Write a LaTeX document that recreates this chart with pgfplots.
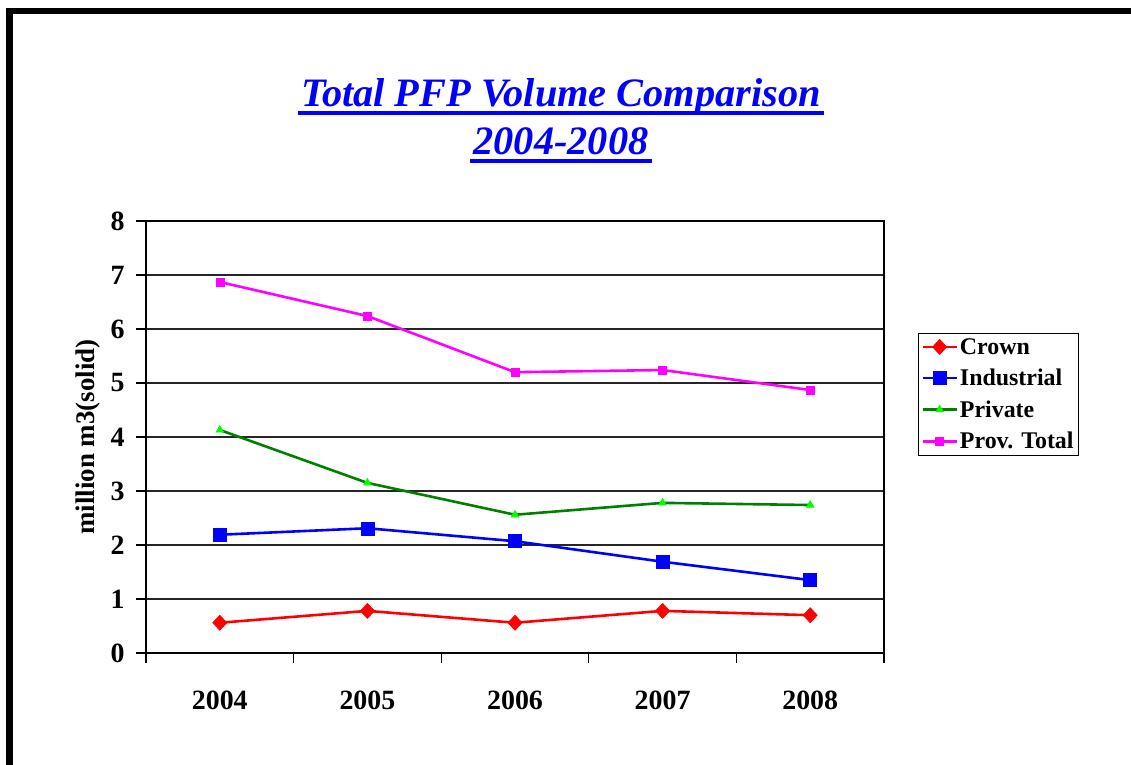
\documentclass[border=0pt]{standalone}
\usepackage{fontspec}
\setmainfont{Liberation Serif}
\usepackage{pgfplots}
\pgfplotsset{compat=1.18}
\usetikzlibrary{calc}
\definecolor{crownRed}{RGB}{255,0,0}
\definecolor{indBlue}{RGB}{0,0,255}
\definecolor{privLine}{RGB}{0,128,0}
\definecolor{privMark}{RGB}{0,255,0}
\definecolor{provMag}{RGB}{255,0,255}

\begin{document}
\begin{tikzpicture}[x=1bp,y=1bp]
  \useasboundingbox (0,0) rectangle (1131,765);
  % slide frame (left and top edges)
  \fill[black] (6,0) rectangle (13,757);
  \fill[black] (6,751) rectangle (1131,757);

  % title
  \node[anchor=base,text=indBlue,font=\fontsize{40.5}{40.5}\selectfont\bfseries\itshape]
    (t1) at (561,658) {Total PFP Volume Comparison};
  \node[anchor=base,text=indBlue,font=\fontsize{40.5}{40.5}\selectfont\bfseries\itshape]
    (t2) at (561,610) {2004-2008};
  \draw[indBlue,line width=4] ($(t1.base west)+(0,-6)$) -- ($(t1.base east)+(0,-6)$);
  \draw[indBlue,line width=4] ($(t2.base west)+(0,-6)$) -- ($(t2.base east)+(0,-6)$);

  \coordinate (axsw) at (146,112);
  \begin{axis}[
    at={(axsw)},anchor=south west,
    scale only axis,width=738bp,height=432bp,
    xmin=-0.5,xmax=4.5,ymin=0,ymax=8,
    xtick={0,1,2,3,4},
    xticklabels={2004,2005,2006,2007,2008},
    major x tick style={draw=none},
    minor xtick={-0.5,0.5,1.5,2.5,3.5,4.5},
    ytick={0,1,...,8},
    tick align=outside,
    major tick length=10bp,minor tick length=10bp,
    xtick pos=bottom,ytick pos=left,
    ymajorgrids=true,
    grid style={draw=black!85,line width=1.2bp},
    axis line style={black,line width=1.1bp},
    tick style={black,line width=1.1bp},
    /pgf/number format/assume math mode=true,
    xticklabel style={font=\fontsize{28}{28}\selectfont\bfseries,yshift=-24bp},
    yticklabel style={font=\fontsize{28}{28}\selectfont\bfseries,xshift=-8bp},
    ylabel={million m3(solid)},
    every axis y label/.style={at={(axis description cs:-0.079,0.5)},rotate=90,anchor=center,
      font=\fontsize{27}{27}\selectfont\bfseries},
    legend style={at={(axis description cs:1.046,0.741)},anchor=north west,
      draw=black,line width=0.8bp,font=\fontsize{24}{24}\selectfont\bfseries,
      inner sep=3bp,row sep=9.5bp,
      /tikz/every even column/.append style={column sep=2bp}},
    legend cell align=left,
    legend image code/.code={\draw[mark repeat=2,mark phase=2,#1]
      plot coordinates {(0bp,0bp) (17bp,0bp) (34bp,0bp)};},
  ]
    \addplot[crownRed,line width=2.6bp,mark=diamond*,mark size=7.6bp,mark options={fill=crownRed,draw=crownRed,xscale=1.25,line width=0.5bp}]
      coordinates {(0,0.56) (1,0.78) (2,0.56) (3,0.78) (4,0.70)};
    \addplot[indBlue,line width=2.6bp,mark=square*,mark size=6.5bp,mark options={fill=indBlue,draw=indBlue,line width=0.5bp}]
      coordinates {(0,2.19) (1,2.31) (2,2.07) (3,1.69) (4,1.35)};
    \addplot[privLine,line width=2.6bp,mark=triangle*,mark size=4.5bp,mark options={fill=privMark,draw=privMark,line width=0.5bp}]
      coordinates {(0,4.13) (1,3.15) (2,2.56) (3,2.78) (4,2.74)};
    \addplot[provMag,line width=2.6bp,mark=square*,mark size=4bp,mark options={fill=provMag,draw=provMag,line width=0.5bp}]
      coordinates {(0,6.87) (1,6.24) (2,5.20) (3,5.24) (4,4.87)};
    \legend{Crown,Industrial,Private,Prov. Total}
  \end{axis}
\end{tikzpicture}
\end{document}
